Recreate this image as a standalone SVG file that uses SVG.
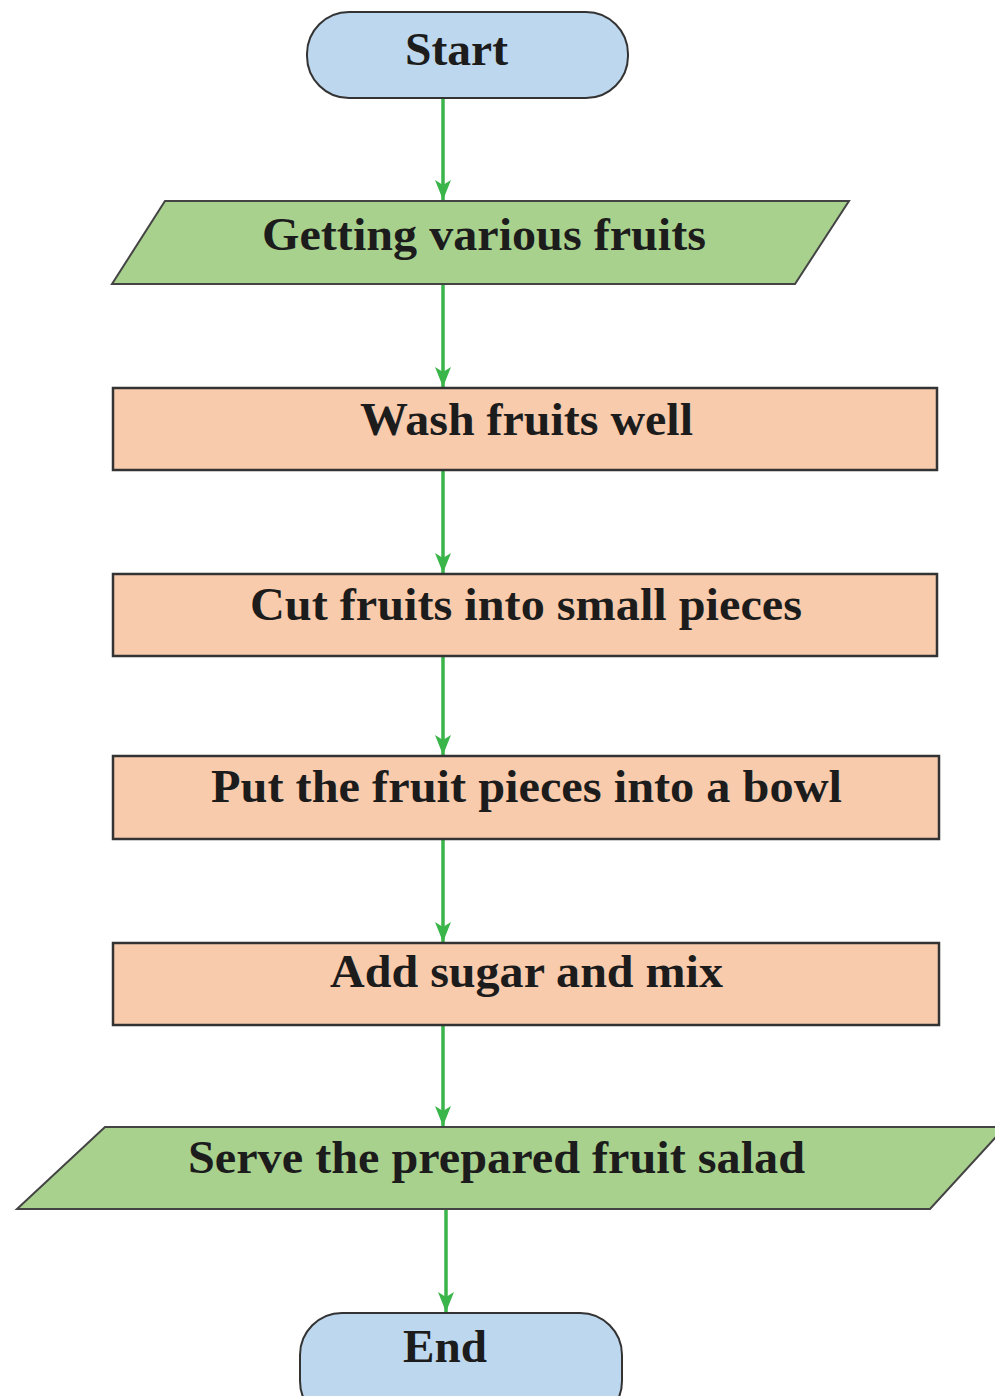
<svg xmlns="http://www.w3.org/2000/svg" width="995" height="1396" viewBox="0 0 995 1396">
<defs>
<style>
.term{fill:#bdd7ee;stroke:#333;stroke-width:2}
.io{fill:#a9d18e;stroke:#444;stroke-width:2}
.proc{fill:#f8cbad;stroke:#333;stroke-width:2.5}
.lbl{font-family:"Liberation Serif","Times New Roman",serif;font-weight:bold;font-size:47px;fill:#1c1c1c;text-anchor:middle}
.edge{stroke:#3ab54a;stroke-width:3.5;fill:none;marker-end:url(#ah)}
</style>
<marker id="ah" viewBox="0 0 20 16" refX="20" refY="8" markerWidth="20" markerHeight="16" markerUnits="userSpaceOnUse" orient="auto">
<path d="M0,0 L20,8 L0,16 L5,8 Z" fill="#3ab54a"/>
</marker>
</defs>
<rect width="995" height="1396" fill="#fff"/>
<g id="connectors">
<line class="edge" x1="443" y1="98" x2="443" y2="200"/>
<line class="edge" x1="443" y1="284" x2="443" y2="387"/>
<line class="edge" x1="443" y1="470" x2="443" y2="573"/>
<line class="edge" x1="443" y1="656" x2="443" y2="755"/>
<line class="edge" x1="443" y1="839" x2="443" y2="942"/>
<line class="edge" x1="443" y1="1025" x2="443" y2="1126"/>
<line class="edge" x1="446" y1="1209" x2="446" y2="1312"/>
</g>
<g id="start">
<rect class="term" x="307" y="12" width="321" height="86" rx="42" ry="42"/>
<text class="lbl" x="456.5" y="65" textLength="103" lengthAdjust="spacingAndGlyphs">Start</text>
</g>
<g id="getting">
<polygon class="io" points="165,201 849,201 795,284 112,284"/>
<text class="lbl" x="484" y="250" textLength="444" lengthAdjust="spacingAndGlyphs">Getting various fruits</text>
</g>
<g id="wash">
<rect class="proc" x="113" y="388" width="824" height="82"/>
<text class="lbl" x="526.5" y="435" textLength="333" lengthAdjust="spacingAndGlyphs">Wash fruits well</text>
</g>
<g id="cut">
<rect class="proc" x="113" y="574" width="824" height="82"/>
<text class="lbl" x="526" y="620" textLength="552" lengthAdjust="spacingAndGlyphs">Cut fruits into small pieces</text>
</g>
<g id="put">
<rect class="proc" x="113" y="756" width="826" height="83"/>
<text class="lbl" x="526.5" y="802" textLength="631" lengthAdjust="spacingAndGlyphs">Put the fruit pieces into a bowl</text>
</g>
<g id="add">
<rect class="proc" x="113" y="943" width="826" height="82"/>
<text class="lbl" x="526.5" y="987" textLength="393" lengthAdjust="spacingAndGlyphs">Add sugar and mix</text>
</g>
<g id="serve">
<polygon class="io" points="105,1127 1005,1127 930,1209 17,1209"/>
<text class="lbl" x="496.5" y="1173" textLength="617" lengthAdjust="spacingAndGlyphs">Serve the prepared fruit salad</text>
</g>
<g id="end">
<rect class="term" x="300" y="1313" width="322" height="110" rx="42" ry="42"/>
<text class="lbl" x="445" y="1362" textLength="84" lengthAdjust="spacingAndGlyphs">End</text>
</g>
</svg>
